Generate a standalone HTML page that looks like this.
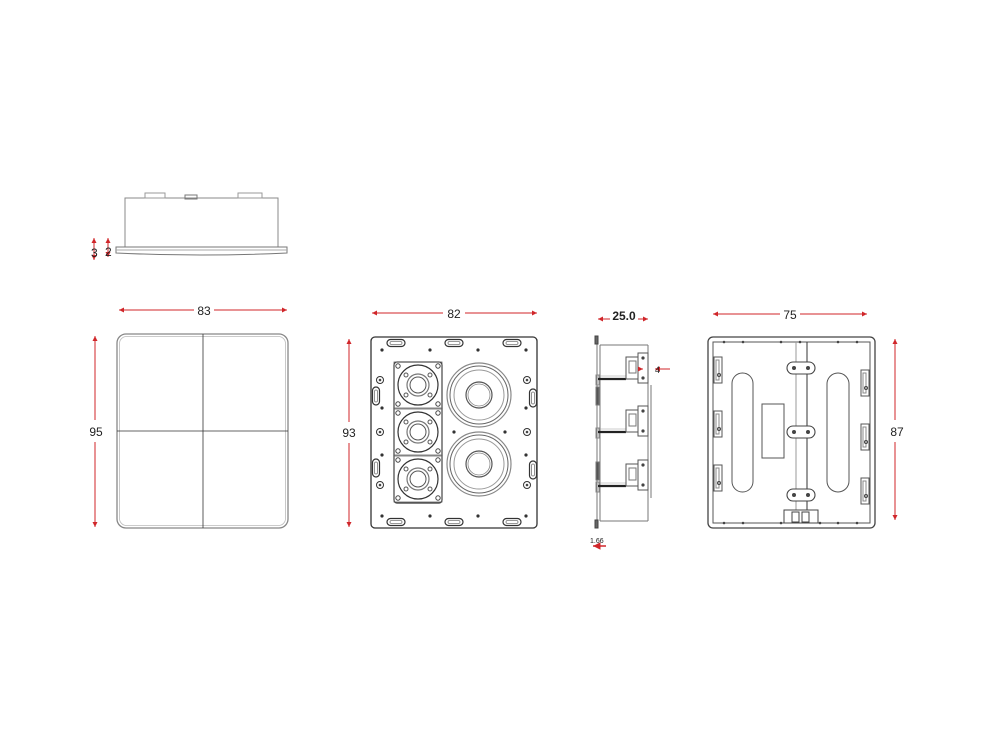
<!DOCTYPE html>
<html><head><meta charset="utf-8"><style>
html,body{margin:0;padding:0;background:#fff;}
svg{display:block;}
text{font-family:"Liberation Sans",Arial,sans-serif;fill:#222;}
</style></head><body>
<svg width="990" height="743" viewBox="0 0 990 743" xmlns="http://www.w3.org/2000/svg">
<defs>
<marker id="ar" viewBox="0 0 10 10" refX="10" refY="5" markerWidth="7" markerHeight="5" orient="auto-start-reverse"><path d="M0,0L10,5L0,10z" fill="#d0262a"/></marker>
<g id="tw">
  <rect x="-24" y="-23" width="48" height="46" fill="none" stroke="#666" stroke-width="0.8"/>
  <circle r="20" fill="none" stroke="#333" stroke-width="1.2"/>
  <circle r="11" fill="none" stroke="#777" stroke-width="1.2"/>
  <circle r="8" fill="none" stroke="#555" stroke-width="1"/>
  <circle cx="-20" cy="-19" r="2.2" fill="none" stroke="#444"/>
  <circle cx="20" cy="-19" r="2.2" fill="none" stroke="#444"/>
  <circle cx="-20" cy="19" r="2.2" fill="none" stroke="#444"/>
  <circle cx="20" cy="19" r="2.2" fill="none" stroke="#444"/>
  <circle cx="-12" cy="-10" r="2" fill="none" stroke="#555"/>
  <circle cx="12" cy="-10" r="2" fill="none" stroke="#555"/>
  <circle cx="-12" cy="10" r="2" fill="none" stroke="#555"/>
  <circle cx="12" cy="10" r="2" fill="none" stroke="#555"/>
</g>
<g id="wf">
  <circle r="32" fill="none" stroke="#888" stroke-width="1.2"/>
  <circle r="29" fill="none" stroke="#666" stroke-width="1"/>
  <circle r="25" fill="none" stroke="#999" stroke-width="1"/>
  <circle r="13" fill="none" stroke="#555" stroke-width="1.2"/>
  <circle r="11" fill="none" stroke="#888" stroke-width="0.8"/>
</g>
<g id="hslot"><rect x="-9" y="-3.5" width="18" height="7" rx="3.5" fill="none" stroke="#333" stroke-width="1.2"/><rect x="-6" y="-1.5" width="12" height="3" rx="1.5" fill="none" stroke="#777" stroke-width="0.8"/></g>
<g id="vslot"><rect x="-3.5" y="-9" width="7" height="18" rx="3.5" fill="none" stroke="#333" stroke-width="1.2"/><rect x="-1.5" y="-6" width="3" height="12" rx="1.5" fill="none" stroke="#777" stroke-width="0.8"/></g>
<g id="scr"><circle r="3.5" fill="none" stroke="#333" stroke-width="1"/><circle r="1.3" fill="#444"/></g>
<g id="br">
  <rect x="0" y="0" width="3" height="10" fill="none" stroke="#888"/>
  <line x1="2" y1="4" x2="30" y2="4" stroke="#222" stroke-width="2.2"/>
  <line x1="2" y1="1" x2="30" y2="1" stroke="#999" stroke-width="0.6"/>
  <rect x="30" y="-18" width="12" height="22" fill="none" stroke="#555"/>
  <rect x="33" y="-14" width="7" height="12" fill="none" stroke="#777"/>
  <rect x="42" y="-22" width="10" height="30" fill="none" stroke="#555"/>
  <circle cx="47" cy="-17" r="1.6" fill="#444"/><circle cx="47" cy="3" r="1.6" fill="#444"/>
</g>
<g id="bk">
  <rect x="0" y="0" width="8" height="26" fill="none" stroke="#555"/>
  <rect x="2" y="3" width="3" height="20" fill="none" stroke="#888"/>
  <circle cx="5" cy="18" r="1.5" fill="none" stroke="#444"/>
</g>
<g id="bb"><rect x="-14" y="-6" width="28" height="12" rx="6" fill="#fff" stroke="#444" stroke-width="1.1"/><circle cx="-7" cy="0" r="2" fill="#444"/><circle cx="7" cy="0" r="2" fill="#444"/></g>
</defs>

<!-- top side view -->
<g stroke="#777" fill="none" stroke-width="1">
  <rect x="125" y="198" width="153" height="49" stroke="#888"/>
  <rect x="145" y="193" width="20" height="5" stroke="#999"/>
  <rect x="238" y="193" width="24" height="5" stroke="#999"/>
  <rect x="185" y="195" width="12" height="4" stroke="#777"/>
  <path d="M116,247 L287,247 L287,253 Q200,257 116,253 Z" stroke="#777"/>
  <line x1="116" y1="250" x2="287" y2="250" stroke="#aaa"/>
</g>
<g stroke="#d0262a" stroke-width="1">
  <line x1="94" y1="238" x2="94" y2="260" marker-start="url(#ar)" marker-end="url(#ar)"/>
  <line x1="108" y1="238" x2="108" y2="257" marker-start="url(#ar)" marker-end="url(#ar)"/>
</g>
<text x="91" y="257" font-size="12">3</text>
<text x="105" y="256" font-size="12">2</text>

<!-- grille front -->
<rect x="117" y="334" width="171" height="194" rx="9" fill="none" stroke="#888" stroke-width="1.3"/>
<rect x="119.5" y="336.5" width="166" height="189" rx="7" fill="none" stroke="#bbb" stroke-width="0.8"/>
<line x1="203" y1="334" x2="203" y2="528" stroke="#333" stroke-width="0.8"/>
<line x1="117" y1="431" x2="288" y2="431" stroke="#333" stroke-width="0.8"/>
<line x1="119" y1="310" x2="194" y2="310" stroke="#d0262a" marker-start="url(#ar)"/>
<line x1="214" y1="310" x2="287" y2="310" stroke="#d0262a" marker-end="url(#ar)"/>
<text x="204" y="315" font-size="12" text-anchor="middle">83</text>
<line x1="95" y1="336" x2="95" y2="420" stroke="#d0262a" marker-start="url(#ar)"/>
<line x1="95" y1="442" x2="95" y2="527" stroke="#d0262a" marker-end="url(#ar)"/>
<text x="96" y="436" font-size="12" text-anchor="middle">95</text>

<!-- speaker front -->
<rect x="371" y="337" width="166" height="191" rx="4" fill="none" stroke="#333" stroke-width="1.3"/>
<rect x="394" y="362" width="48" height="141" rx="3" fill="none" stroke="#333" stroke-width="1.3"/>
<use href="#tw" x="418" y="385"/><use href="#tw" x="418" y="432"/><use href="#tw" x="418" y="479"/>
<use href="#wf" x="479" y="395"/><use href="#wf" x="479" y="464"/>
<use href="#hslot" x="396" y="343"/><use href="#hslot" x="454" y="343"/><use href="#hslot" x="512" y="343"/>
<use href="#hslot" x="396" y="522"/><use href="#hslot" x="454" y="522"/><use href="#hslot" x="512" y="522"/>
<use href="#vslot" x="376" y="396"/><use href="#vslot" x="376" y="468"/>
<use href="#vslot" x="533" y="398"/><use href="#vslot" x="533" y="470"/>
<use href="#scr" x="380" y="380"/><use href="#scr" x="380" y="432"/><use href="#scr" x="380" y="485"/>
<use href="#scr" x="527" y="380"/><use href="#scr" x="527" y="432"/><use href="#scr" x="527" y="485"/>
<g fill="#333">
<circle cx="382" cy="350" r="1.6"/><circle cx="430" cy="350" r="1.6"/><circle cx="478" cy="350" r="1.6"/><circle cx="526" cy="350" r="1.6"/>
<circle cx="382" cy="516" r="1.6"/><circle cx="430" cy="516" r="1.6"/><circle cx="478" cy="516" r="1.6"/><circle cx="526" cy="516" r="1.6"/>
<circle cx="382" cy="408" r="1.6"/><circle cx="382" cy="455" r="1.6"/><circle cx="526" cy="408" r="1.6"/><circle cx="526" cy="455" r="1.6"/>
<circle cx="454" cy="432" r="1.6"/><circle cx="505" cy="432" r="1.6"/>
</g>
<line x1="372" y1="313" x2="443" y2="313" stroke="#d0262a" marker-start="url(#ar)"/>
<line x1="465" y1="313" x2="537" y2="313" stroke="#d0262a" marker-end="url(#ar)"/>
<text x="454" y="318" font-size="12" text-anchor="middle">82</text>
<line x1="349" y1="339" x2="349" y2="422" stroke="#d0262a" marker-start="url(#ar)"/>
<line x1="349" y1="443" x2="349" y2="527" stroke="#d0262a" marker-end="url(#ar)"/>
<text x="349" y="437" font-size="12" text-anchor="middle">93</text>

<!-- side view -->
<g fill="none" stroke="#777" stroke-width="1">
  <line x1="597" y1="338" x2="597" y2="526"/>
  <line x1="600" y1="345" x2="600" y2="521"/>
  <rect x="595" y="336" width="3" height="8" fill="#666" stroke="#444"/>
  <rect x="595" y="520" width="3" height="8" fill="#666" stroke="#444"/>
  <line x1="600" y1="345" x2="648" y2="345"/>
  <line x1="600" y1="521" x2="648" y2="521"/>
  <line x1="648" y1="345" x2="648" y2="521"/>
  <line x1="651" y1="385" x2="651" y2="498"/>
  <rect x="596" y="387" width="3" height="18" fill="#555"/>
  <rect x="596" y="462" width="3" height="18" fill="#555"/>
</g>
<use href="#br" x="596" y="375"/><use href="#br" x="596" y="428"/><use href="#br" x="596" y="482"/>
<line x1="598" y1="319" x2="610" y2="319" stroke="#d0262a" marker-start="url(#ar)"/>
<line x1="638" y1="319" x2="648" y2="319" stroke="#d0262a" marker-end="url(#ar)"/>
<text x="624" y="320" font-size="12" text-anchor="middle" font-weight="bold">25.0</text>
<line x1="670" y1="369" x2="655" y2="369" stroke="#d0262a" marker-end="url(#ar)"/>
<line x1="638" y1="369" x2="643" y2="369" stroke="#d0262a" marker-end="url(#ar)"/>
<text x="655" y="373" font-size="9">4</text>
<text x="590" y="543" font-size="7">1.66</text>
<line x1="606" y1="546" x2="593" y2="546" stroke="#d0262a" stroke-width="1.5" marker-end="url(#ar)"/>

<!-- back view -->
<rect x="708" y="337" width="167" height="191" rx="5" fill="none" stroke="#444" stroke-width="1.3"/>
<rect x="713" y="342" width="157" height="181" fill="none" stroke="#555" stroke-width="1"/>
<rect x="732" y="373" width="21" height="119" rx="10.5" fill="none" stroke="#555"/>
<rect x="827" y="373" width="22" height="119" rx="11" fill="none" stroke="#555"/>
<rect x="762" y="404" width="22" height="54" fill="none" stroke="#555"/>
<line x1="796" y1="342" x2="796" y2="512" stroke="#999"/>
<line x1="807" y1="342" x2="807" y2="512" stroke="#333"/>
<use href="#bb" x="801" y="368"/><use href="#bb" x="801" y="432"/><use href="#bb" x="801" y="495"/>
<rect x="784" y="510" width="34" height="13" fill="#fff" stroke="#444"/>
<rect x="792" y="512" width="7" height="10" fill="none" stroke="#444"/>
<rect x="802" y="512" width="7" height="10" fill="none" stroke="#444"/>
<use href="#bk" x="714" y="357"/><use href="#bk" x="714" y="411"/><use href="#bk" x="714" y="465"/>
<use href="#bk" x="861" y="370"/><use href="#bk" x="861" y="424"/><use href="#bk" x="861" y="478"/>
<g fill="#444">
<circle cx="724" cy="342" r="1.3"/><circle cx="743" cy="342" r="1.3"/><circle cx="781" cy="342" r="1.3"/><circle cx="800" cy="342" r="1.3"/><circle cx="838" cy="342" r="1.3"/><circle cx="857" cy="342" r="1.3"/>
<circle cx="724" cy="523" r="1.3"/><circle cx="743" cy="523" r="1.3"/><circle cx="781" cy="523" r="1.3"/><circle cx="820" cy="523" r="1.3"/><circle cx="838" cy="523" r="1.3"/><circle cx="857" cy="523" r="1.3"/>
</g>
<line x1="713" y1="314" x2="780" y2="314" stroke="#d0262a" marker-start="url(#ar)"/>
<line x1="800" y1="314" x2="867" y2="314" stroke="#d0262a" marker-end="url(#ar)"/>
<text x="790" y="319" font-size="12" text-anchor="middle">75</text>
<line x1="895" y1="339" x2="895" y2="420" stroke="#d0262a" marker-start="url(#ar)"/>
<line x1="895" y1="442" x2="895" y2="520" stroke="#d0262a" marker-end="url(#ar)"/>
<text x="897" y="436" font-size="12" text-anchor="middle">87</text>
</svg>
</body></html>
